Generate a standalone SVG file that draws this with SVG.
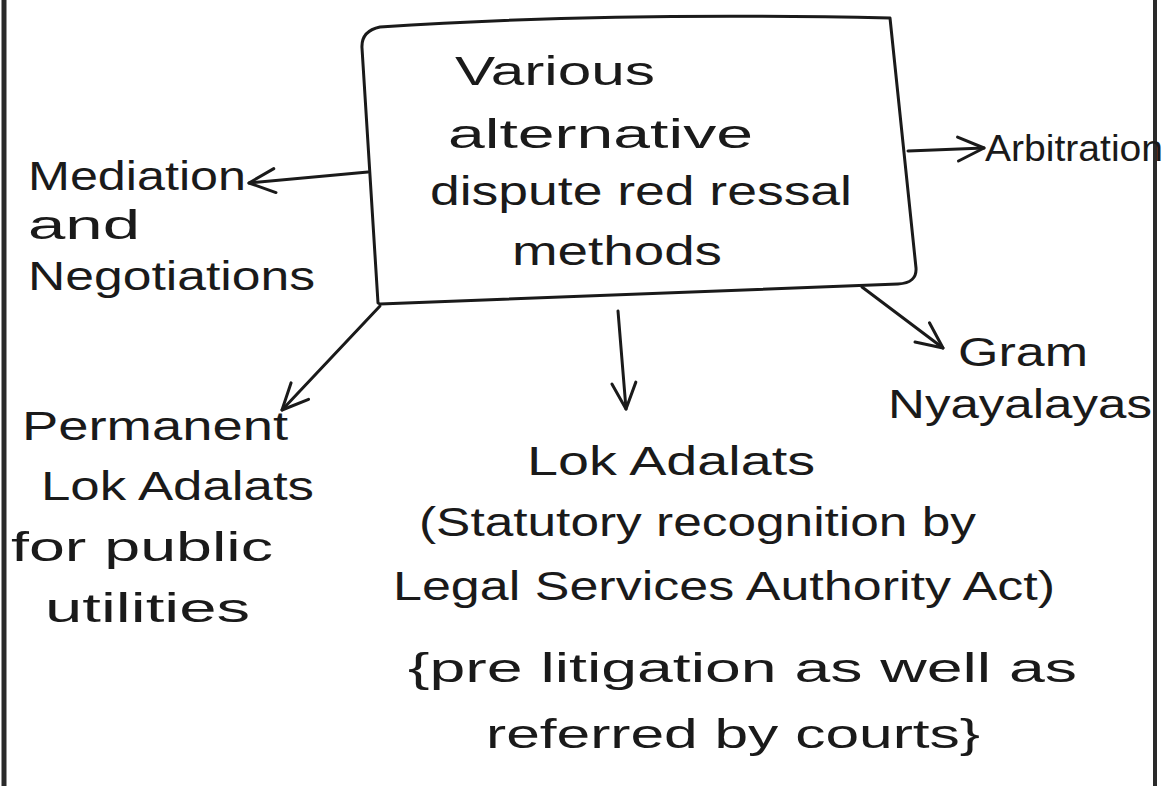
<svg xmlns="http://www.w3.org/2000/svg" width="1173" height="786" viewBox="0 0 1173 786">
  <style>
    .t { font-family: "Liberation Sans", "DejaVu Sans", sans-serif; font-size: 40px; fill: #1a1a1a; }
    .s { font-size: 36px; }
    .ln { fill: none; stroke: #1a1a1a; stroke-width: 3; stroke-linecap: round; stroke-linejoin: round; }
    .border { stroke: #2a2a2a; fill: none; }
  </style>
  <defs>
    <marker id="ah" viewBox="0 0 32 32" refX="29" refY="16" markerWidth="32" markerHeight="32" markerUnits="userSpaceOnUse" orient="auto">
      <path d="M3,4 L29,16 L3,28" fill="none" stroke="#1a1a1a" stroke-width="3" stroke-linecap="round" stroke-linejoin="round"/>
    </marker>
  </defs>
  <rect width="1173" height="786" fill="#ffffff"/>

  <g id="frame">
    <line class="border" x1="4" y1="0" x2="4" y2="786" stroke-width="5"/>
    <line class="border" x1="1155" y1="0" x2="1155" y2="786" stroke-width="4"/>
  </g>

  <g id="center">
    <path class="ln" d="M378,303 Q372,200 362,48 Q361,31 380,27 Q600,12 890,18 L916,268 Q917,283 898,284 L380,304 Z"/>
    <text class="t" x="455" y="85" textLength="200" lengthAdjust="spacingAndGlyphs">Various</text>
    <text class="t" x="448" y="148" textLength="305" lengthAdjust="spacingAndGlyphs">alternative</text>
    <text class="t" x="430" y="205" textLength="422" lengthAdjust="spacingAndGlyphs">dispute red ressal</text>
    <text class="t" x="512" y="265" textLength="210" lengthAdjust="spacingAndGlyphs">methods</text>
  </g>

  <g id="connectors">
    <line class="ln" x1="368" y1="172" x2="249" y2="183" marker-end="url(#ah)"/>
    <line class="ln" x1="908" y1="151" x2="984" y2="148" marker-end="url(#ah)"/>
    <line class="ln" x1="862" y1="287" x2="943" y2="348" marker-end="url(#ah)"/>
    <line class="ln" x1="618" y1="311" x2="626" y2="409" marker-end="url(#ah)"/>
    <line class="ln" x1="380" y1="306" x2="282" y2="410" marker-end="url(#ah)"/>
  </g>

  <g id="mediation">
    <text class="t" x="28" y="190" textLength="218" lengthAdjust="spacingAndGlyphs">Mediation</text>
    <text class="t" x="28" y="239" textLength="112" lengthAdjust="spacingAndGlyphs">and</text>
    <text class="t" x="28" y="290" textLength="287" lengthAdjust="spacingAndGlyphs">Negotiations</text>
  </g>

  <g id="arbitration">
    <text class="t s" x="985" y="161" textLength="178" lengthAdjust="spacingAndGlyphs">Arbitration</text>
  </g>

  <g id="gram-nyayalayas">
    <text class="t" x="958" y="366" textLength="130" lengthAdjust="spacingAndGlyphs">Gram</text>
    <text class="t" x="888" y="418" textLength="264" lengthAdjust="spacingAndGlyphs">Nyayalayas</text>
  </g>

  <g id="permanent-lok-adalats">
    <text class="t" x="22" y="440" textLength="266" lengthAdjust="spacingAndGlyphs">Permanent</text>
    <text class="t" x="41" y="500" textLength="273" lengthAdjust="spacingAndGlyphs">Lok Adalats</text>
    <text class="t" x="11" y="561" textLength="262" lengthAdjust="spacingAndGlyphs">for public</text>
    <text class="t" x="45" y="622" textLength="205" lengthAdjust="spacingAndGlyphs">utilities</text>
  </g>

  <g id="lok-adalats">
    <text class="t" x="527" y="475" textLength="288" lengthAdjust="spacingAndGlyphs">Lok Adalats</text>
    <text class="t" x="419" y="536" textLength="557" lengthAdjust="spacingAndGlyphs">(Statutory recognition by</text>
    <text class="t" x="393" y="600" textLength="662" lengthAdjust="spacingAndGlyphs">Legal Services Authority Act)</text>
    <text class="t" x="408" y="682" textLength="669" lengthAdjust="spacingAndGlyphs">{pre litigation as well as</text>
    <text class="t" x="486" y="748" textLength="494" lengthAdjust="spacingAndGlyphs">referred by courts}</text>
  </g>
</svg>
